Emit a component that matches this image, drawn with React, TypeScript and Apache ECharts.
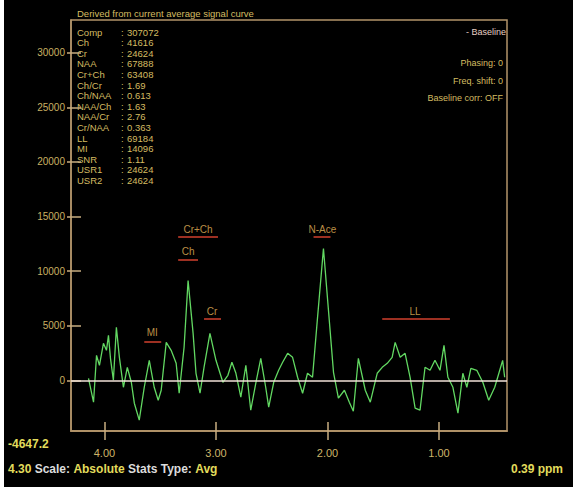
import React, { useEffect, useRef } from "react";
import * as echarts from "echarts";

// Spectrum (chemical shift in ppm, signal amplitude)
const ppm = [
  4.143, 4.098, 4.071, 4.045, 4.009, 3.982, 3.964, 3.946, 3.92, 3.893, 3.866, 3.83, 3.795, 3.759,
  3.732, 3.688, 3.643, 3.598, 3.554, 3.518, 3.491, 3.446, 3.402, 3.357, 3.33, 3.286, 3.25, 3.205,
  3.179, 3.143, 3.107, 3.054, 3.0, 2.938, 2.893, 2.857, 2.821, 2.777, 2.732, 2.688, 2.643, 2.598,
  2.554, 2.527, 2.482, 2.438, 2.402, 2.357, 2.313, 2.268, 2.223, 2.179, 2.134, 2.089, 2.036, 1.991,
  1.946, 1.902, 1.848, 1.804, 1.768, 1.723, 1.661, 1.616, 1.554, 1.509, 1.464, 1.42, 1.393, 1.348,
  1.304, 1.259, 1.214, 1.17, 1.125, 1.08, 1.036, 0.991, 0.955, 0.92, 0.875, 0.83, 0.786, 0.75,
  0.714, 0.661, 0.607, 0.554, 0.5, 0.455, 0.429, 0.411,
];
const signal = [
  183, -2011, 2285, 1371, 3382, 2742, 4113, 2011, 0, 4844, 2102, -640, 1188, -183,
  -2102, -3656, -640, 1828, -640, -1828, -914, 3473, 2742, 1554, -1188, 3016, 9140, 4296,
  640, -1188, 1188, 4296, 1828, -183, 457, 1645, 640, -1554, 1371, -2742, -274, 2011,
  -640, -2468, -183, 914, 1645, 2468, 2102, 274, -1188, 640, 274, 5758, 12065, 6398,
  731, -1645, -914, -2011, -2833, 2011, -914, -2011, 640, 1188, 1554, 2102, 3473, 2102,
  2468, 274, -2559, -2742, 1188, 914, 1828, 914, 3199, 274, -640, -3016, 640, -640,
  1097, 914, -183, -1828, -640, 914, 1828, 274,
];

// Axes
const yMin = -4647.2;
const yMax = 33000;
const yTicks = [0, 5000, 10000, 15000, 20000, 25000, 30000];
const xMin = 0.39;
const xMax = 4.3;
const xTicks = [4, 3, 2, 1];

// Statistics block
const statNames = ["Comp", "Ch", "Cr", "NAA", "Cr+Ch", "Ch/Cr", "Ch/NAA", "NAA/Ch", "NAA/Cr", "Cr/NAA", "LL", "MI", "SNR", "USR1", "USR2"];
const statValues = ["307072", "41616", "24624", "67888", "63408", "1.69", "0.613", "1.63", "2.76", "0.363", "69184", "14096", "1.11", "24624", "24624"];

// Right-side settings
const settingLines = ["Phasing: 0", "Freq. shift: 0", "Baseline corr: OFF"];

// Peak labels
const peakNames = ["Cr+Ch", "Ch", "Cr", "MI", "N-Ace", "LL"];
const peakPpm = [3.161, 3.25, 3.036, 3.571, 2.045, 1.214];
const peakValue = [13800, 11790, 6307, 4387, 13800, 6307];
const ulFrom = [3.339, 3.339, 3.107, 3.643, 2.125, 1.509];
const ulTo = [2.982, 3.161, 2.955, 3.491, 1.973, 0.902];
const ulValue = [13162, 11059, 5667, 3565, 13162, 5667];

const FONT = "'Liberation Sans', Arial, sans-serif";
const TAN = "#b2946a";
const GOLD = "#d4bc62";
const YEL = "#e2dc5c";

export default function App() {
  const ref = useRef<HTMLDivElement>(null);
  useEffect(() => {
    if (!ref.current) return;
    const chart = echarts.init(ref.current, undefined, { renderer: "svg" });

    const graphics: any[] = [
      { type: "rect", shape: { x: 0, y: 0, width: 4, height: 487 }, style: { fill: "#ffffff" } },
      {
        type: "text", x: 77, y: 13,
        style: { text: "Derived from current average signal curve", fill: GOLD, font: `9.5px ${FONT}`, verticalAlign: "middle" },
      },
      {
        type: "text", x: 506, y: 32,
        style: { text: "- Baseline", fill: "#e6cfc4", font: `9px ${FONT}`, align: "right", verticalAlign: "middle" },
      },
      {
        type: "text", x: 8, y: 444,
        style: { text: "-4647.2", fill: YEL, font: `bold 12px ${FONT}`, verticalAlign: "middle" },
      },
      {
        type: "text", x: 8, y: 469,
        style: {
          text: "{y|4.30} {w|Scale:} {y|Absolute} {w|Stats Type:} {y|Avg}",
          verticalAlign: "middle",
          rich: {
            y: { fill: YEL, font: `bold 12px ${FONT}` },
            w: { fill: "#dcdcdc", font: `bold 12px ${FONT}` },
          },
        },
      },
      {
        type: "text", x: 563, y: 469,
        style: { text: "0.39 ppm", fill: YEL, font: `bold 12px ${FONT}`, align: "right", verticalAlign: "middle" },
      },
    ];
    statNames.forEach((n, i) => {
      const y = 32 + i * 10.6;
      graphics.push({ type: "text", x: 77, y, style: { text: n, fill: GOLD, font: `9.5px ${FONT}`, verticalAlign: "middle" } });
      graphics.push({ type: "text", x: 121, y, style: { text: ":", fill: GOLD, font: `9.5px ${FONT}`, verticalAlign: "middle" } });
      graphics.push({ type: "text", x: 127, y, style: { text: statValues[i], fill: GOLD, font: `9.5px ${FONT}`, verticalAlign: "middle" } });
    });
    settingLines.forEach((t, i) => {
      graphics.push({
        type: "text", x: 503, y: 63 + i * 17.5,
        style: { text: t, fill: GOLD, font: `9px ${FONT}`, align: "right", verticalAlign: "middle" },
      });
    });

    const lineData = ppm.map((p, i) => [p, signal[i]]);
    const labelData = peakNames.map((n, i) => ({ name: n, value: [peakPpm[i], peakValue[i]] }));
    const underlineData = peakNames.map((n, i) => [
      { coord: [ulFrom[i], ulValue[i]] },
      { coord: [ulTo[i], ulValue[i]] },
    ]);

    const axisCommon = {
      type: "value" as const,
      min: xMin,
      max: xMax,
      inverse: true,
      position: "bottom" as const,
      splitLine: { show: false },
      axisLine: { show: true, onZero: false, lineStyle: { color: TAN, width: 1.5 } },
    };

    chart.setOption({
      animation: false,
      backgroundColor: "#000000",
      grid: { left: 71, right: 66, top: 20, bottom: 56, show: true, borderColor: TAN, borderWidth: 1.5, backgroundColor: "transparent" },
      xAxis: [
        {
          ...axisCommon,
          axisTick: { show: true, inside: false, length: 9, lineStyle: { color: "#c8ae80", width: 1.5 }, customValues: xTicks },
          axisLabel: {
            show: true, customValues: xTicks, color: "#cdb468", fontSize: 11, fontFamily: FONT, margin: 16,
            formatter: (v: number) => v.toFixed(2),
          },
        },
        {
          ...axisCommon,
          axisTick: { show: true, inside: true, length: 9, lineStyle: { color: "#c8ae80", width: 1.5 }, customValues: xTicks },
          axisLabel: { show: false },
        },
      ],
      yAxis: [
        {
          type: "value", min: yMin, max: yMax,
          splitLine: { show: false },
          axisLine: { show: true, onZero: false, lineStyle: { color: TAN, width: 1.5 } },
          axisTick: { show: true, inside: true, length: 10, lineStyle: { color: "#c8ae80", width: 1.5 }, customValues: yTicks },
          axisLabel: {
            customValues: yTicks, color: "#c9b062", fontSize: 10, fontFamily: FONT, margin: 6,
            formatter: (v: number) => String(v),
          },
        },
        {
          type: "value", min: yMin, max: yMax, position: "left",
          splitLine: { show: false },
          axisLine: { show: false, onZero: false },
          axisTick: { show: true, inside: false, length: 4, lineStyle: { color: "#c8ae80", width: 1.5 }, customValues: yTicks },
          axisLabel: { show: false },
        },
      ],
      series: [
        {
          type: "line",
          name: "Signal",
          data: lineData,
          xAxisIndex: 0,
          yAxisIndex: 0,
          showSymbol: false,
          symbol: "none",
          lineStyle: { color: "#62d862", width: 1.3 },
          z: 3,
          markLine: {
            silent: true,
            symbol: "none",
            label: { show: false },
            lineStyle: { color: "#f2e2d8", width: 1.5, type: "solid" },
            data: [{ yAxis: 0 }],
            z: 4,
          },
        },
        {
          type: "scatter",
          name: "Peaks",
          data: labelData,
          symbolSize: 0,
          label: {
            show: true, position: "inside", formatter: "{b}", color: "#e8b65a",
            fontSize: 10, fontFamily: FONT,
          },
          markLine: {
            silent: true,
            symbol: "none",
            label: { show: false },
            lineStyle: { color: "#d2402e", width: 1.5, type: "solid" },
            data: underlineData,
          },
          z: 5,
        },
      ],
      graphic: graphics,
    });
    return () => chart.dispose();
  }, []);

  return (
    <div style={{ position: "fixed", left: 0, top: 0, width: 573, height: 487, background: "#000" }}>
      <div ref={ref} style={{ width: 573, height: 487 }} />
    </div>
  );
}
